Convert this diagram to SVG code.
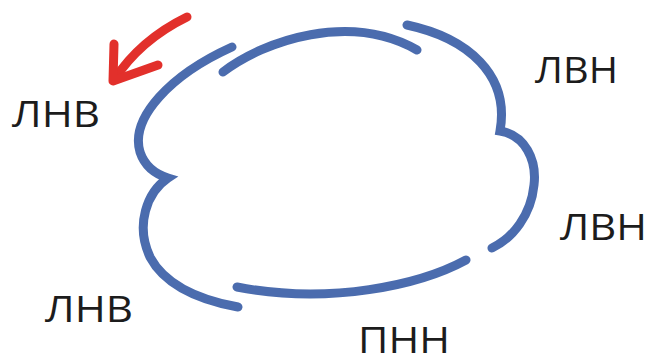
<svg xmlns="http://www.w3.org/2000/svg" width="654" height="363" viewBox="0 0 654 363">
<style>
.seg{fill:none;stroke:#4b6cae;stroke-width:9;stroke-linecap:round;stroke-linejoin:miter;stroke-miterlimit:10}
.arr{fill:none;stroke:#e2302b;stroke-width:9;stroke-linecap:round;stroke-linejoin:round}
.lbl{font-family:"Open Sans","Liberation Sans",sans-serif;font-size:36px;fill:#1c1c1c}
</style>
<rect width="654" height="363" fill="#ffffff"/>
<g id="connectors">
<path class="seg" d="M223,72 C265,40 350,12 417,50"/>
<path class="seg" d="M407,25 C468,38 510,75 500,131 C525,135 537,160 534,185 C531,215 513,238 492,248"/>
<path class="seg" d="M466,260 C420,285 330,305 237,287"/>
<path class="seg" d="M232,47 C170,75 130,118 140,152 C145,167 155,174 168,178 C147,192 135,225 150,257 C165,285 200,300 238,307"/>
<path class="arr" d="M187,17 Q140,40 114,80"/>
<path class="arr" d="M114,44 L113,81 L158,65"/>
</g>
<g id="label-lnv-top"><text class="lbl" x="12" y="127" textLength="88" lengthAdjust="spacingAndGlyphs">ЛНВ</text></g>
<g id="label-lvn-top"><text class="lbl" x="535" y="83" textLength="83" lengthAdjust="spacingAndGlyphs">ЛВН</text></g>
<g id="label-lvn-right"><text class="lbl" x="560" y="240" textLength="87" lengthAdjust="spacingAndGlyphs">ЛВН</text></g>
<g id="label-lnv-bottom"><text class="lbl" x="45" y="322" textLength="88" lengthAdjust="spacingAndGlyphs">ЛНВ</text></g>
<g id="label-pnn"><text class="lbl" x="358" y="353" textLength="92" lengthAdjust="spacingAndGlyphs">ПНН</text></g>
</svg>
